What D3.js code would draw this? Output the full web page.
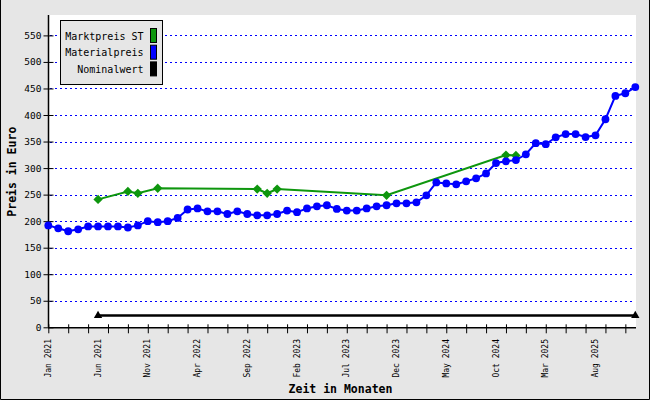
<!DOCTYPE html>
<html><head><meta charset="utf-8">
<script src="https://cdn.jsdelivr.net/npm/d3@7"></script>
<style>body{margin:0;padding:0;background:#fff}svg{display:block}</style>
</head><body>
<svg id="c" width="650" height="400"></svg>
<script>
const months = ["Jan","Feb","Mar","Apr","May","Jun","Jul","Aug","Sep","Oct","Nov","Dec"];
const startYear = 2021;
const monthCount = 60;
const materialpreis = [192,186.5,181,184.6,190,190,190,190,188,192,200,198,200,206,222,224,218.5,218.5,213.5,218.5,
  213.5,211,211,213.5,220,217,224,228,230,223,220,220,224,228,230,233.6,233.6,235.5,248.7,273,
  271,269.4,275,280.7,290,309.5,312.7,315,326,347,345,358,364,364,358.5,361.7,392,436,441,452.7];
const marktIdx = [5,8,9,11,21,22,23,34,46,47];
const marktpreis = [241,256,252.5,262,260.5,252.5,260.5,248.7,324.6,323.7];
const nominalIdx = [5,59];
const nominalwert = [22,22];
const yTicks = [0,50,100,150,200,250,300,350,400,450,500,550];
const legendLabels = ["Marktpreis ST","Materialpreis","Nominalwert"];
const colors = ["#0e960e","#0000ff","#000000"];

const svg = d3.select("#c");
const mono = "'DejaVu Sans Mono', 'Liberation Mono', monospace";
svg.append("rect").attr("width",650).attr("height",400).attr("fill","#e6e6e6");
svg.append("path").attr("d","M0.5,0 V399.5 H649.5 V0").attr("fill","none").attr("stroke","#000").attr("stroke-width",1);

const x = d3.scaleLinear().domain([0,59]).range([48.3,635.3]);
const y = d3.scaleLinear().domain([0,550]).range([327.3,35.4]);

svg.append("rect").attr("x",48).attr("y",15).attr("width",588).attr("height",312).attr("fill","#fff");

// grid
svg.append("g").selectAll("line").data(yTicks.filter(d=>d>0)).join("line")
  .attr("x1",50).attr("x2",633).attr("y1",d=>Math.round(y(d))+0.5).attr("y2",d=>Math.round(y(d))+0.5)
  .attr("stroke","#0000ff").attr("stroke-width",1).attr("stroke-dasharray","2,3");

// y axis
const yAxis = d3.axisLeft(y).tickValues(yTicks).tickSizeInner(5).tickSizeOuter(0).tickPadding(2);
const gy = svg.append("g").attr("transform","translate(48.5,0)").call(yAxis);
gy.select(".domain").attr("d",`M0,${y(0)}V15`).attr("stroke","#000").attr("stroke-width",1.5);
gy.selectAll(".tick line").attr("x2",5).attr("x1",-5).attr("stroke","#000");
gy.selectAll(".tick text").attr("font-family",mono).attr("font-size","9.5px").attr("fill","#000").attr("x",-7);

// x axis
const xTickVals = d3.range(0,59,2);
const xAxis = d3.axisBottom(x).tickValues(xTickVals).tickSizeInner(6).tickSizeOuter(0).tickFormat("");
const gx = svg.append("g").attr("transform",`translate(0,${y(0)})`).call(xAxis);
gx.select(".domain").attr("d",`M48,0.5H636`).attr("stroke","#000").attr("stroke-width",1.5);
gx.selectAll(".tick line").attr("y1",-3).attr("y2",6).attr("stroke","#000");

const labelIdx = d3.range(0,monthCount,5);
svg.append("g").selectAll("text").data(labelIdx).join("text")
  .attr("transform",d=>`translate(${x(d)+2.5},339) rotate(-90)`)
  .attr("text-anchor","end").attr("font-family",mono).attr("font-size","8px")
  .text(d=>months[d%12]+" "+(startYear+Math.floor(d/12)));

// axis titles
svg.append("text").attr("x",340.5).attr("y",393).attr("text-anchor","middle")
  .attr("font-family",mono).attr("font-weight","bold").attr("font-size","11.5px").text("Zeit in Monaten");
svg.append("text").attr("transform","translate(16,171.7) rotate(-90)").attr("text-anchor","middle")
  .attr("font-family",mono).attr("font-weight","bold").attr("font-size","11.5px").text("Preis in Euro");

// Marktpreis
const gData = marktIdx.map((d,i)=>[d,marktpreis[i]]);
const line = d3.line().x(d=>x(d[0])).y(d=>y(d[1]));
svg.append("path").datum(gData).attr("d",line).attr("fill","none").attr("stroke",colors[0]).attr("stroke-width",2);
svg.append("g").selectAll("path").data(gData).join("path")
  .attr("d",d3.symbol(d3.symbolDiamond2,55)).attr("transform",d=>`translate(${x(d[0])},${y(d[1])})`)
  .attr("fill",colors[0]);

// Materialpreis
const bData = materialpreis.map((v,i)=>[i,v]);
svg.append("path").datum(bData).attr("d",line).attr("fill","none").attr("stroke",colors[1]).attr("stroke-width",2);
svg.append("g").selectAll("circle").data(bData).join("circle")
  .attr("cx",d=>x(d[0])).attr("cy",d=>y(d[1])).attr("r",3.9).attr("fill",colors[1]);

// Nominalwert
const nData = nominalIdx.map((d,i)=>[d,nominalwert[i]]);
svg.append("path").datum(nData).attr("d",line).attr("fill","none").attr("stroke",colors[2]).attr("stroke-width",2.5);
svg.append("g").selectAll("path").data(nData).join("path")
  .attr("d",d3.symbol(d3.symbolTriangle,30)).attr("transform",d=>`translate(${x(d[0])},${y(d[1])})`)
  .attr("fill",colors[2]);

// legend
svg.append("rect").attr("x",60.5).attr("y",20.5).attr("width",102).attr("height",64)
  .attr("fill","#e6e6e6").attr("stroke","#000").attr("stroke-width",1);
const lg = svg.append("g").selectAll("g").data(legendLabels).join("g")
  .attr("transform",(d,i)=>`translate(0,${28+i*16.7})`);
lg.append("rect").attr("x",150.5).attr("y",0.5).attr("width",6).attr("height",14)
  .attr("fill",(d,i)=>colors[i]).attr("stroke","#000");
lg.append("text").attr("x",143.5).attr("y",11.5).attr("text-anchor","end")
  .attr("font-family",mono).attr("font-size","10px").text(d=>d);
</script>
</body></html>
